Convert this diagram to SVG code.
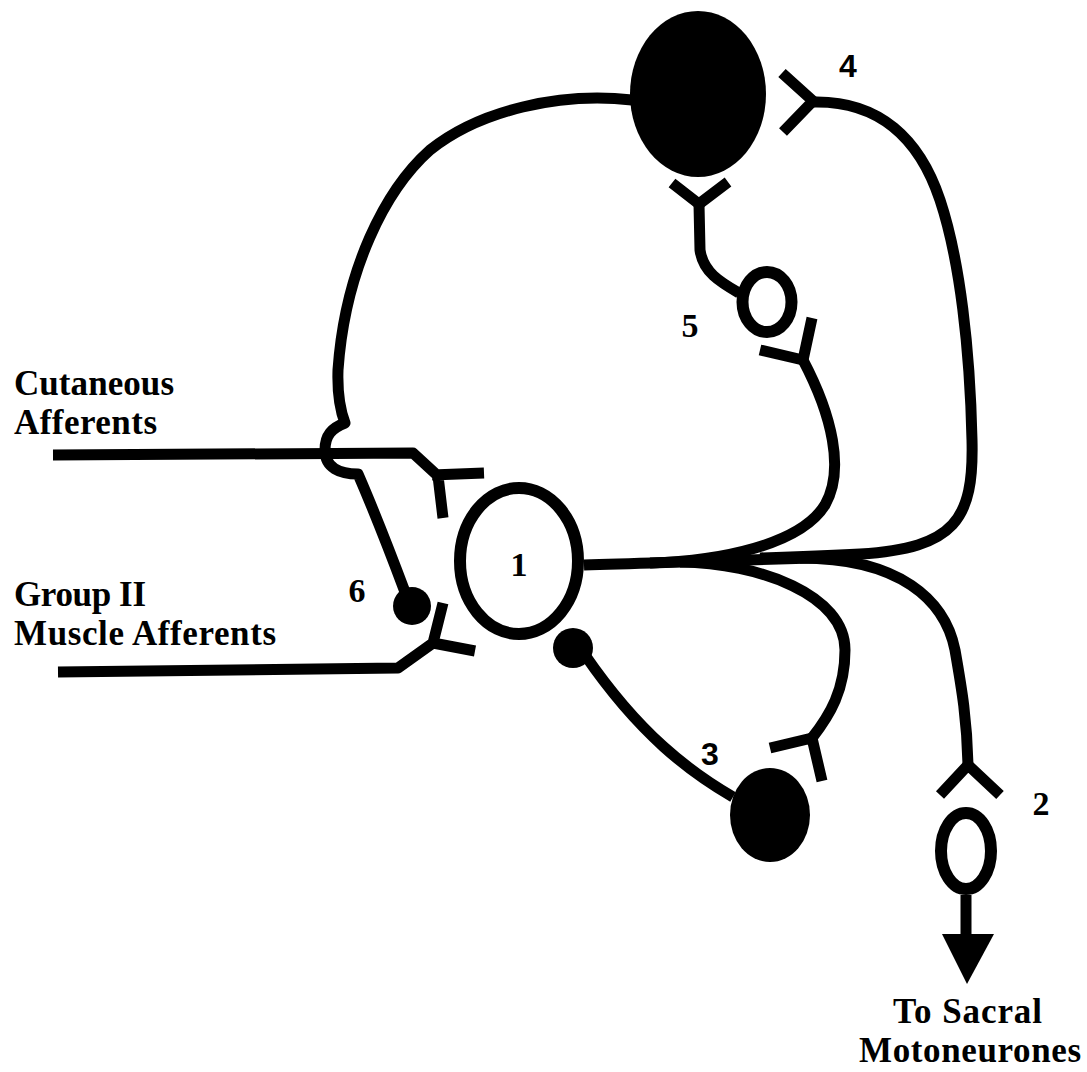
<svg xmlns="http://www.w3.org/2000/svg" width="1087" height="1072" viewBox="0 0 1087 1072">
  <style>
    .ax{fill:none;stroke:#000;stroke-width:11;stroke-linecap:butt;stroke-linejoin:round}
    .open{fill:#fff;stroke:#000;stroke-width:12}
    .solid{fill:#000}
    .lbl{font-family:"Liberation Serif","Times New Roman",serif;font-weight:bold;font-size:35px;fill:#000}
    .num{font-family:"Liberation Serif","Times New Roman",serif;font-weight:bold;font-size:34px;fill:#000;text-anchor:middle}
    .nums{font-family:"Liberation Sans",Arial,sans-serif;font-weight:bold;font-size:32px;fill:#000;text-anchor:middle}
  </style>
  <rect width="1087" height="1072" fill="#fff"/>

  <!-- axons, synaptic endings and output arrow -->
  <g id="connectors">
    <!-- cell 4 axon running left and down to the inhibitory ending (6), hopping over the cutaneous line -->
    <path class="ax" d="M 632 100 C 560 92, 480 110, 430 150 C 385 190, 345 270, 338 370 C 337 400, 342 415, 345 423 C 332 428, 325 435, 325 450 C 325 468, 340 474, 358 474 Q 378 520, 405 592"/>
    <circle class="solid" cx="412" cy="606" r="19"/>

    <!-- cutaneous afferent ending on cell 1 -->
    <path class="ax" d="M 53 455 L 413 453 L 438 476 L 443 518 M 432 475 L 484 473"/>
    <!-- group II muscle afferent ending on cell 1 -->
    <path class="ax" d="M 58 672 L 398 668 L 433 643 L 475 651 M 433 643 L 443 603"/>

    <!-- cell 1 axon trunk -->
    <path class="ax" d="M 584 565 C 660 563, 720 560, 860 557"/>
    <!-- branch up to cell 5 -->
    <path class="ax" d="M 650 563 C 720 561, 800 545, 825 505 C 845 470, 832 415, 803 360"/>
    <path class="ax" d="M 760 350 L 803 360 L 812 318"/>
    <!-- branch down to cell 3 -->
    <path class="ax" d="M 680 562 C 760 563, 845 595, 845 650 C 845 690, 830 715, 812 738"/>
    <path class="ax" d="M 770 748 L 812 738 L 822 781"/>
    <!-- branch to cell 2 -->
    <path class="ax" d="M 800 558 C 900 558, 945 600, 955 650 C 962 690, 967 720, 968 765"/>
    <path class="ax" d="M 940 795 L 968 765 L 1000 795"/>
    <!-- long loop up to cell 4 -->
    <path class="ax" d="M 760 558 C 790 557, 820 556, 860 554 C 955 548, 974 520, 972 440 C 970 350, 960 260, 940 200 C 920 140, 880 100, 812 102"/>
    <path class="ax" d="M 782 73 L 813 101 L 783 132"/>

    <!-- cell 5 axon up to cell 4 -->
    <path class="ax" d="M 739 293 C 720 282, 703 272, 700 250 L 699 204"/>
    <path class="ax" d="M 672 183 L 699 204 L 728 182"/>

    <!-- cell 3 axon to inhibitory ending on cell 1 -->
    <path class="ax" d="M 733 797 C 690 772, 640 735, 585 655"/>
    <circle class="solid" cx="573" cy="648" r="20"/>

    <!-- cell 2 output -->
    <path class="ax" d="M 966 895 L 966 940"/>
    <polygon class="solid" points="942,934 994,934 967,984"/>
  </g>

  <g id="cell-1">
    <ellipse class="open" cx="519" cy="561" rx="59" ry="73"/>
    <text class="num" x="519" y="576">1</text>
  </g>
  <g id="cell-2">
    <ellipse class="open" cx="966" cy="851" rx="25" ry="38"/>
    <text class="num" x="1041" y="815">2</text>
  </g>
  <g id="cell-3">
    <ellipse class="solid" cx="770" cy="815" rx="40" ry="47"/>
    <text class="nums" x="710" y="765">3</text>
  </g>
  <g id="cell-4">
    <ellipse class="solid" cx="698" cy="94" rx="68" ry="83"/>
    <text class="nums" x="848" y="77">4</text>
  </g>
  <g id="cell-5">
    <ellipse class="open" cx="767" cy="302" rx="24.5" ry="30"/>
    <text class="num" x="690" y="337">5</text>
  </g>
  <g id="ending-6">
    <text class="num" x="357" y="602">6</text>
  </g>

  <g id="inputs">
    <text class="lbl" x="14" y="395" textLength="160" lengthAdjust="spacing">Cutaneous</text>
    <text class="lbl" x="14" y="434" textLength="143" lengthAdjust="spacing">Afferents</text>
    <text class="lbl" x="14" y="606" textLength="132" lengthAdjust="spacing">Group II</text>
    <text class="lbl" x="14" y="645" textLength="262" lengthAdjust="spacing">Muscle Afferents</text>
  </g>
  <g id="output">
    <text class="lbl" x="893" y="1023" textLength="149" lengthAdjust="spacing">To Sacral</text>
    <text class="lbl" x="859" y="1062" textLength="222" lengthAdjust="spacing">Motoneurones</text>
  </g>
</svg>
